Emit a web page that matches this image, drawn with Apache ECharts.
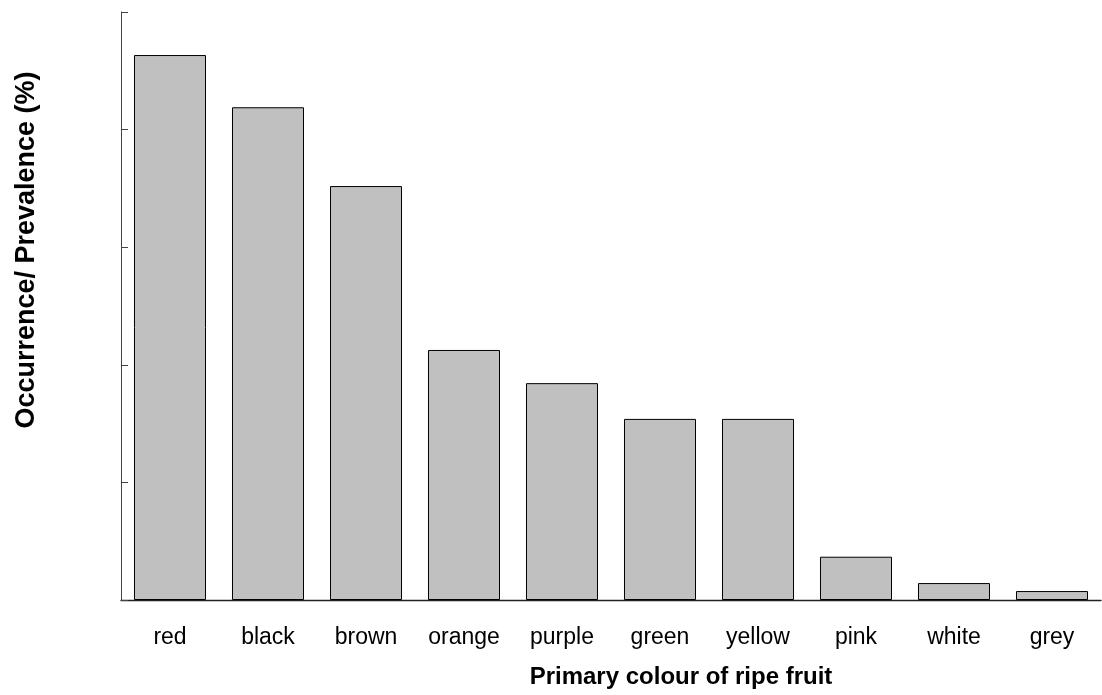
<!DOCTYPE html>
<html>
<head>
<meta charset="utf-8">
<script src="https://cdn.jsdelivr.net/npm/echarts@6/dist/echarts.min.js"></script>
<style>
  html, body { margin: 0; padding: 0; background: #fff; }
  #chart { width: 1102px; height: 695px; }
</style>
</head>
<body>
<div id="chart"></div>
<script>
// Primary colour of ripe fruit and how often each occurs (%)
const fruitColours = ['red', 'black', 'brown', 'orange', 'purple', 'green', 'yellow', 'pink', 'white', 'grey'];
const prevalence = [23.17, 20.95, 17.6, 10.63, 9.22, 7.7, 7.7, 1.84, 0.72, 0.38];
const yTicks = [0, 5, 10, 15, 20, 25];

const chart = echarts.init(document.getElementById('chart'));
const font = '"Liberation Sans", Arial, sans-serif';

chart.setOption({
  animation: false,
  grid: { left: 121, right: 1, top: 12, bottom: 95 },
  xAxis: {
    type: 'category',
    data: fruitColours,
    name: 'Primary colour of ripe fruit',
    nameLocation: 'middle',
    nameGap: 65,
    nameTextStyle: { fontFamily: font, fontSize: 24, fontWeight: 'bold', color: '#000', padding: [0, 0, 0, 140] },
    axisLine: { lineStyle: { color: '#222', width: 1.3 } },
    axisTick: { inside: true, length: 7, lineStyle: { color: '#333' } },
    axisLabel: { fontFamily: font, fontSize: 23, color: '#000', margin: 26 }
  },
  yAxis: {
    type: 'value',
    min: yTicks[0],
    max: yTicks[yTicks.length - 1],
    interval: yTicks[1] - yTicks[0],
    name: 'Occurrence/ Prevalence (%)',
    nameLocation: 'middle',
    nameGap: 81,
    nameTextStyle: { fontFamily: font, fontSize: 27, fontWeight: 'bold', color: '#000', padding: [0, 0, 0, 112] },
    axisLine: { show: true, lineStyle: { color: '#444', width: 1 } },
    axisTick: { show: true, inside: true, length: 7, lineStyle: { color: '#444' } },
    axisLabel: { show: false },
    splitLine: { show: false }
  },
  series: [{
    type: 'bar',
    data: prevalence,
    barCategoryGap: '26.5%',
    itemStyle: { color: '#c0c0c0', borderColor: '#000', borderWidth: 1 }
  }]
});
</script>
</body>
</html>
